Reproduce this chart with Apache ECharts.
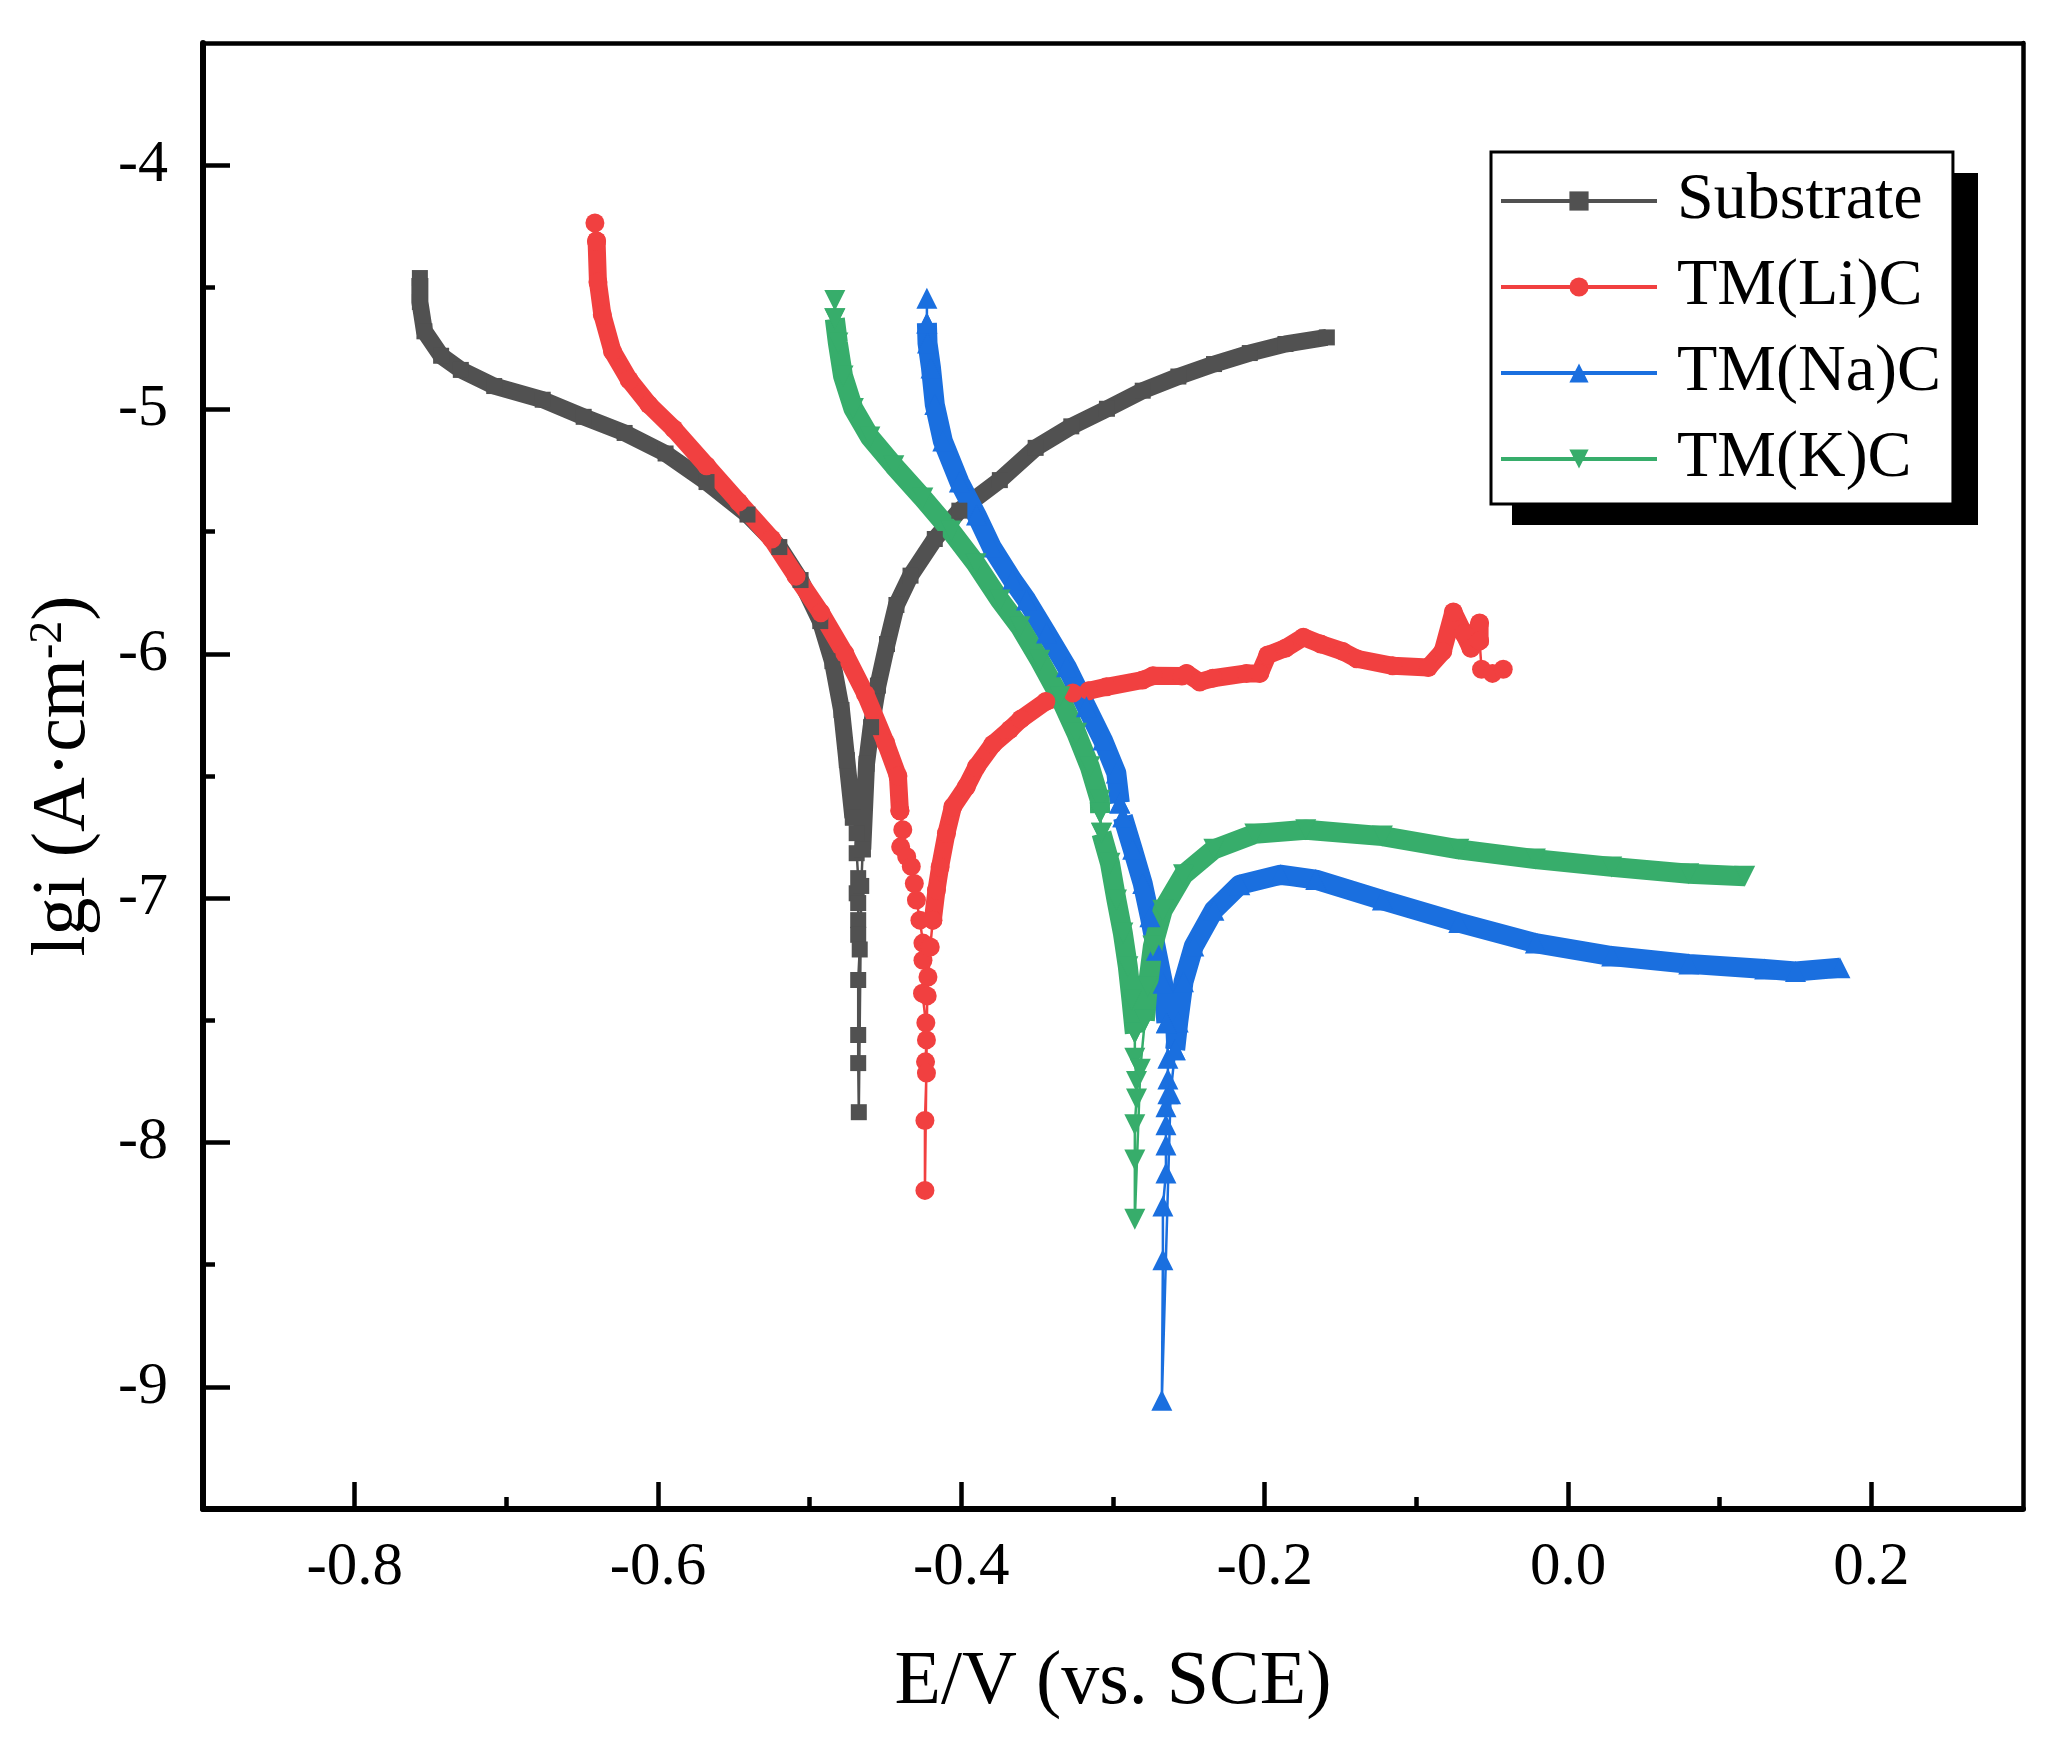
<!DOCTYPE html>
<html>
<head>
<meta charset="utf-8">
<script src="https://cdn.jsdelivr.net/npm/echarts@6/dist/echarts.min.js"></script>
<style>
html,body{margin:0;padding:0;background:#fff;}
#chart{width:2056px;height:1750px;}
</style>
</head>
<body>
<div id="chart"></div>
<script>
// ---- axis ticks ----
const xTickValues = [-0.8, -0.6, -0.4, -0.2, 0.0, 0.2];
const xMinorTickValues = [-0.7, -0.5, -0.3, -0.1, 0.1];
const yTickValues = [-9, -8, -7, -6, -5, -4];
const yMinorTickValues = [-8.5, -7.5, -6.5, -5.5, -4.5];
const seriesNames = ['Substrate', 'TM(Li)C', 'TM(Na)C', 'TM(K)C'];

// ---- Substrate ----
const substrateCathodic = [[-0.757,-4.462],[-0.757,-4.56],[-0.754,-4.68],[-0.743,-4.78],[-0.730,-4.838],[-0.708,-4.904],[-0.676,-4.960],[-0.649,-5.030],[-0.622,-5.096],[-0.595,-5.180],[-0.568,-5.297],[-0.541,-5.430],[-0.520,-5.563],[-0.506,-5.698],[-0.493,-5.866],[-0.485,-6.030],[-0.479,-6.230],[-0.4755,-6.435],[-0.4715,-6.670]];
const substrateTail = [[-0.4715,-6.670],[-0.469,-6.734],[-0.469,-6.816],[-0.468,-6.918],[-0.469,-6.980],[-0.468,-7.020],[-0.468,-7.090],[-0.468,-7.150],[-0.467,-7.210],[-0.468,-7.335],[-0.468,-7.560],[-0.468,-7.675],[-0.4676,-7.876],[-0.466,-6.95],[-0.465,-6.80]];
const substrateAnodic = [[-0.465,-6.80],[-0.4625,-6.45],[-0.4595,-6.30],[-0.455,-6.13],[-0.449,-5.96],[-0.4428,-5.80],[-0.4335,-5.68],[-0.4175,-5.53],[-0.4013,-5.414],[-0.3746,-5.289],[-0.351,-5.157],[-0.3275,-5.069],[-0.304,-4.997],[-0.2804,-4.923],[-0.2569,-4.865],[-0.2334,-4.814],[-0.2098,-4.769],[-0.1863,-4.732],[-0.159,-4.705]];

// ---- TM(Li)C ----
const liHead = [[-0.6416,-4.237],[-0.6405,-4.31]];
const liCathodic = [[-0.6405,-4.31],[-0.6396,-4.478],[-0.6367,-4.612],[-0.630,-4.762],[-0.619,-4.879],[-0.606,-4.980],[-0.5895,-5.080],[-0.568,-5.230],[-0.5467,-5.379],[-0.525,-5.530],[-0.509,-5.682],[-0.4926,-5.832],[-0.4768,-5.999],[-0.4632,-6.165],[-0.4498,-6.365],[-0.4418,-6.500],[-0.4405,-6.642]];
const liTail = [[-0.4405,-6.642],[-0.4386,-6.72],[-0.440,-6.79],[-0.436,-6.83],[-0.433,-6.87],[-0.431,-6.94],[-0.4296,-7.008],[-0.4273,-7.09],[-0.4253,-7.184],[-0.4253,-7.254],[-0.422,-7.323],[-0.4256,-7.389],[-0.4234,-7.51],[-0.423,-7.58],[-0.4236,-7.67],[-0.423,-7.716],[-0.424,-7.91],[-0.424,-8.196],[-0.4225,-7.40],[-0.4205,-7.20],[-0.4188,-7.09]];
const liAnodic = [[-0.4188,-7.09],[-0.4164,-6.967],[-0.414,-6.872],[-0.4098,-6.734],[-0.4056,-6.626],[-0.3967,-6.544],[-0.390,-6.462],[-0.3792,-6.37],[-0.368,-6.31],[-0.3607,-6.267],[-0.3443,-6.195],[-0.3265,-6.16],[-0.316,-6.151],[-0.3043,-6.135],[-0.2804,-6.107],[-0.2737,-6.09],[-0.2546,-6.091],[-0.2515,-6.08],[-0.2428,-6.115],[-0.2342,-6.10],[-0.212,-6.08],[-0.2032,-6.08],[-0.198,-6.005],[-0.1863,-5.977],[-0.1745,-5.932],[-0.163,-5.96],[-0.1485,-5.99],[-0.1393,-6.02],[-0.1156,-6.049],[-0.0921,-6.056],[-0.0826,-5.99],[-0.0756,-5.829],[-0.0687,-5.917],[-0.064,-5.977],[-0.0583,-5.874],[-0.0583,-5.947]];
const liEnd = [[-0.0583,-5.947],[-0.057,-6.063],[-0.0498,-6.08],[-0.0427,-6.063]];

// ---- TM(Na)C ----
const naHead = [[-0.4227,-4.545],[-0.4227,-4.646]];
const naCathodic = [[-0.4227,-4.646],[-0.4223,-4.728],[-0.420,-4.83],[-0.4175,-4.98],[-0.4122,-5.129],[-0.4013,-5.297],[-0.390,-5.432],[-0.380,-5.563],[-0.3663,-5.698],[-0.357,-5.78],[-0.3438,-5.915],[-0.3306,-6.053],[-0.3175,-6.217],[-0.3067,-6.353],[-0.2978,-6.488],[-0.2955,-6.61]];
const naGap = [[-0.2955,-6.61],[-0.2935,-6.667]];
const naCathodic2 = [[-0.2935,-6.667],[-0.287,-6.80],[-0.2804,-6.94],[-0.2757,-7.076],[-0.2714,-7.213],[-0.267,-7.348],[-0.2648,-7.51]];
const naTail = [[-0.2648,-7.51],[-0.2638,-7.655],[-0.2638,-7.74],[-0.2638,-7.80],[-0.2651,-7.854],[-0.2651,-7.927],[-0.2651,-8.01],[-0.2651,-8.125],[-0.2671,-8.26],[-0.2671,-8.48],[-0.2678,-9.055],[-0.262,-7.80],[-0.259,-7.62]];
const naAnodic = [[-0.259,-7.62],[-0.257,-7.507],[-0.2535,-7.342],[-0.2467,-7.196],[-0.2335,-7.049],[-0.2164,-6.945],[-0.1897,-6.904],[-0.1663,-6.924],[-0.1224,-7.008],[-0.072,-7.10],[-0.0215,-7.184],[0.0288,-7.237],[0.0796,-7.269],[0.1297,-7.29],[0.150,-7.30],[0.1793,-7.285]];

// ---- TM(K)C ----
const kHead = [[-0.4834,-4.554],[-0.4834,-4.629]];
const kCathodic = [[-0.4834,-4.629],[-0.4814,-4.728],[-0.478,-4.863],[-0.4712,-4.996],[-0.4603,-5.113],[-0.4445,-5.23],[-0.4254,-5.362],[-0.4069,-5.497],[-0.3904,-5.631],[-0.3746,-5.78],[-0.3614,-5.889],[-0.3483,-6.026],[-0.3351,-6.176],[-0.3241,-6.325],[-0.3153,-6.462],[-0.3087,-6.599],[-0.3085,-6.652]];
const kGap = [[-0.3085,-6.652],[-0.3076,-6.734]];
const kCathodic2 = [[-0.3076,-6.734],[-0.302,-6.857],[-0.2977,-7.008],[-0.2935,-7.143],[-0.2902,-7.281],[-0.2878,-7.417],[-0.2856,-7.553]];
const kTail = [[-0.2856,-7.553],[-0.2856,-7.655],[-0.2845,-7.75],[-0.2845,-7.822],[-0.2856,-7.927],[-0.2856,-8.072],[-0.2856,-8.314],[-0.282,-7.70],[-0.279,-7.50]];
const kAnodic = [[-0.279,-7.50],[-0.2771,-7.363],[-0.2737,-7.196],[-0.2672,-7.049],[-0.2535,-6.904],[-0.2335,-6.80],[-0.2065,-6.737],[-0.1729,-6.72],[-0.1224,-6.746],[-0.072,-6.80],[-0.0215,-6.84],[0.0288,-6.872],[0.0796,-6.90],[0.1165,-6.91]];

// ---- build ----
const FONT = '"Liberation Serif","Times New Roman",serif';
const BREAK = ['-', '-'];
function joinParts(parts) {
  const out = [];
  parts.forEach((p, i) => { if (i > 0) out.push(BREAK); p.forEach(v => out.push(v)); });
  return out;
}
function curve(name, color, symbol, size, rotate, bandWidth, bandParts, thinParts) {
  const common = {
    type: 'line', name: name, xAxisIndex: 0, yAxisIndex: 0,
    symbol: symbol, symbolSize: size, symbolRotate: rotate, showSymbol: true,
    connectNulls: false, itemStyle: { color: color }, emphasis: { disabled: true },
    animation: false, silent: true
  };
  return [
    Object.assign({}, common, { data: joinParts(bandParts), lineStyle: { color: color, width: bandWidth, cap: 'butt', join: 'round' } }),
    Object.assign({}, common, { data: joinParts(thinParts), lineStyle: { color: color, width: 2.5 } })
  ];
}

const series = [].concat(
  curve(seriesNames[0], '#515151', 'rect', 16, 0, 17, [substrateCathodic, substrateAnodic], [substrateTail]),
  curve(seriesNames[1], '#F14040', 'circle', 19, 0, 18, [liCathodic, liAnodic], [liHead, liTail, liEnd]),
  curve(seriesNames[2], '#1A6FDF', 'triangle', 21, 0, 20, [naCathodic, naCathodic2, naAnodic], [naHead, naGap, naTail]),
  curve(seriesNames[3], '#37AD6B', 'triangle', 21, 180, 20, [kCathodic, kCathodic2, kAnodic], [kHead, kGap, kTail])
);

const gridBox = { left: 203, right: 33, top: 43, bottom: 241 };
const option = {
  backgroundColor: '#fff',
  animation: false,
  grid: [Object.assign({}, gridBox), Object.assign({}, gridBox)],
  graphic: [{
    type: 'rect', left: 1512, top: 173, z: 3, silent: true,
    shape: { width: 466, height: 352 },
    style: { fill: '#000' }
  }],
  xAxis: [
    {
      type: 'value', gridIndex: 0, position: 'bottom', min: -0.9, max: 0.3,
      axisLine: { show: true, onZero: false, lineStyle: { color: '#000', width: 6 } },
      axisTick: { show: true, inside: true, length: 27, customValues: xTickValues, lineStyle: { color: '#000', width: 4.5 } },
      axisLabel: { show: true, customValues: xTickValues, formatter: v => Number(v).toFixed(1), fontFamily: FONT, fontSize: 61, lineHeight: 61, color: '#000', margin: 28 },
      splitLine: { show: false },
      name: 'E/V (vs. SCE)', nameLocation: 'middle', nameGap: 136,
      nameTextStyle: { fontFamily: FONT, fontSize: 76, lineHeight: 76, color: '#000' }
    },
    {
      type: 'value', gridIndex: 0, position: 'top', min: -0.9, max: 0.3,
      axisLine: { show: true, onZero: false, lineStyle: { color: '#000', width: 4.5 } },
      axisTick: { show: false }, axisLabel: { show: false }, splitLine: { show: false }
    },
    {
      type: 'value', gridIndex: 1, position: 'bottom', min: -0.9, max: 0.3,
      axisLine: { show: false, onZero: false },
      axisTick: { show: true, inside: true, length: 12, customValues: xMinorTickValues, lineStyle: { color: '#000', width: 4.5 } },
      axisLabel: { show: false }, splitLine: { show: false }
    }
  ],
  yAxis: [
    {
      type: 'value', gridIndex: 0, position: 'left', min: -9.5, max: -3.5,
      axisLine: { show: true, onZero: false, lineStyle: { color: '#000', width: 6 } },
      axisTick: { show: true, inside: true, length: 27, customValues: yTickValues, lineStyle: { color: '#000', width: 4.5 } },
      axisLabel: { show: true, customValues: yTickValues, formatter: v => String(v), fontFamily: FONT, fontSize: 60, lineHeight: 60, color: '#000', margin: 35 },
      splitLine: { show: false },
      name: '{n|lgi (A·cm}{s|-2}{n|)}', nameLocation: 'middle', nameGap: 101,
      nameTextStyle: {
        fontFamily: FONT, fontSize: 76, color: '#000',
        rich: {
          n: { fontFamily: FONT, fontSize: 76, lineHeight: 76, color: '#000' },
          s: { fontFamily: FONT, fontSize: 46, lineHeight: 46, color: '#000', verticalAlign: 'top' }
        }
      }
    },
    {
      type: 'value', gridIndex: 0, position: 'right', min: -9.5, max: -3.5,
      axisLine: { show: true, onZero: false, lineStyle: { color: '#000', width: 4.5 } },
      axisTick: { show: false }, axisLabel: { show: false }, splitLine: { show: false }
    },
    {
      type: 'value', gridIndex: 1, position: 'left', min: -9.5, max: -3.5,
      axisLine: { show: false, onZero: false },
      axisTick: { show: true, inside: true, length: 12, customValues: yMinorTickValues, lineStyle: { color: '#000', width: 4.5 } },
      axisLabel: { show: false }, splitLine: { show: false }
    }
  ],
  legend: {
    data: seriesNames, orient: 'vertical', left: 1491, top: 152, z: 4,
    padding: [16, 12, 12, 8], itemWidth: 156, itemHeight: 24, itemGap: 20,
    backgroundColor: '#fff', borderColor: '#000', borderWidth: 3,
    selectedMode: false,
    lineStyle: { width: 4 },
    textStyle: { fontFamily: FONT, fontSize: 66, lineHeight: 66, color: '#000', padding: [0, 0, 0, 15] }
  },
  series: series
};

const chart = echarts.init(document.getElementById('chart'), null, { renderer: 'canvas' });
chart.setOption(option);
</script>
</body>
</html>
